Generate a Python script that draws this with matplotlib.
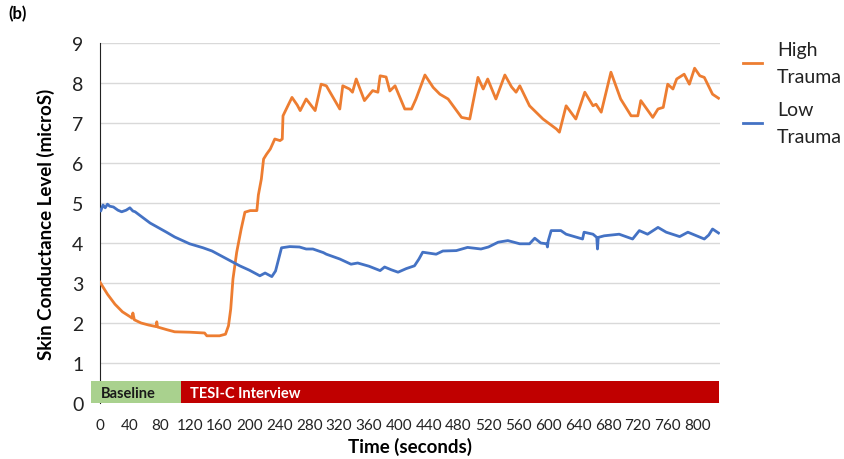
import matplotlib
matplotlib.use("Agg")
import matplotlib.pyplot as plt
from matplotlib.patches import Rectangle

plt.rcParams["font.family"] = ["Lato", "DejaVu Sans"]

C_HIGH = "#ed7d31"; C_LOW = "#4472c4"
C_BASE = "#a9d18e"; C_INT = "#c00000"; C_GRID = "#d9d9d9"

# High Trauma (time s, skin conductance microS)
t_high = [0, 10, 20, 30, 40, 43, 44, 46, 55, 65, 75, 76, 77, 90, 100, 120, 140, 143, 160,
          168, 172, 175, 178, 183, 189, 194, 201, 210, 212, 216, 219, 223, 228, 234, 241,
          244, 245, 252, 257, 264, 268, 276, 288, 296, 303, 321, 325, 334, 338, 343, 354,
          365, 372, 375, 383, 388, 395, 408, 417, 423, 435, 446, 455, 466, 484, 495, 506,
          513, 519, 530, 542, 551, 557, 562, 575, 593, 611, 615, 624, 637, 649, 660, 664,
          671, 684, 697, 711, 720, 724, 740, 747, 754, 760, 767, 772, 782, 789, 796, 803,
          809, 820, 828]
v_high = [3.02, 2.72, 2.47, 2.28, 2.16, 2.12, 2.25, 2.08, 2.0, 1.95, 1.91, 2.03, 1.9, 1.83,
          1.78, 1.77, 1.75, 1.68, 1.68, 1.72, 1.93, 2.35, 3.1, 3.77, 4.35, 4.77, 4.81, 4.81,
          5.2, 5.6, 6.1, 6.22, 6.35, 6.6, 6.56, 6.6, 7.18, 7.45, 7.64, 7.45, 7.31, 7.6, 7.31,
          7.97, 7.93, 7.35, 7.93, 7.85, 7.77, 8.1, 7.56, 7.81, 7.77, 8.18, 8.15, 7.8, 7.93,
          7.35, 7.35, 7.6, 8.2, 7.89, 7.72, 7.6, 7.14, 7.1, 8.14, 7.85, 8.1, 7.6, 8.2, 7.9,
          7.77, 7.93, 7.43, 7.1, 6.85, 6.77, 7.43, 7.1, 7.77, 7.43, 7.47, 7.27, 8.27, 7.6,
          7.18, 7.18, 7.56, 7.14, 7.35, 7.39, 7.97, 7.85, 8.1, 8.22, 7.97, 8.37, 8.18, 8.14,
          7.72, 7.62]

# Low Trauma
t_low = [0, 1, 4, 7, 10, 13, 18, 24, 29, 35, 40, 44, 47, 67, 89, 100, 120, 138, 150, 165,
         187, 200, 214, 221, 230, 235, 243, 254, 267, 276, 285, 299, 303, 321, 336, 345, 360,
         375, 381, 390, 399, 410, 421, 427, 432, 450, 459, 477, 492, 510, 520, 533, 546, 562,
         575, 582, 590, 598, 599, 600, 604, 617, 624, 646, 648, 660, 665, 666, 667, 675, 695,
         713, 722, 733, 747, 758, 776, 787, 809, 815, 820, 828]
v_low = [4.82, 4.8, 4.95, 4.88, 4.97, 4.92, 4.9, 4.82, 4.78, 4.82, 4.88, 4.8, 4.78, 4.5, 4.27,
         4.15, 3.98, 3.88, 3.8, 3.65, 3.43, 3.32, 3.18, 3.25, 3.16, 3.3, 3.88, 3.91, 3.9, 3.85,
         3.85, 3.76, 3.72, 3.6, 3.47, 3.5, 3.42, 3.31, 3.4, 3.33, 3.27, 3.36, 3.43, 3.6, 3.77,
         3.72, 3.8, 3.81, 3.89, 3.85, 3.9, 4.02, 4.06, 3.98, 3.98, 4.12, 4.0, 3.98, 3.9, 4.05,
         4.31, 4.31, 4.22, 4.1, 4.27, 4.22, 4.14, 3.85, 4.14, 4.18, 4.22, 4.1, 4.31, 4.22,
         4.39, 4.27, 4.16, 4.27, 4.1, 4.2, 4.35, 4.25]

# study phases drawn as a strip along the bottom
phase_names = ["Baseline", "TESI-C Interview"]
phase_start = [-12, 108]
phase_end = [108, 828]

x_ticks = list(range(0, 801, 40))
y_ticks = list(range(0, 10))

fig = plt.figure(figsize=(8.44, 4.6), dpi=100)
ax = fig.add_axes([100/844, 1-404/460, 620/844, 360/460])

ax.plot(t_high, v_high, color=C_HIGH, lw=2.0, label="High\nTrauma", zorder=4)
ax.plot(t_low, v_low, color=C_LOW, lw=2.0, label="Low\nTrauma", zorder=4)

ax.set_xlim(0, 830); ax.set_ylim(0, 9)
ax.set_xticks(x_ticks); ax.set_yticks(y_ticks)
ax.grid(axis="y", color=C_GRID, lw=1.0, zorder=0)
ax.set_axisbelow(True)
for s in ("top", "right", "bottom"):
    ax.spines[s].set_visible(False)
ax.spines["left"].set_color("#222222")
ax.tick_params(axis="both", length=0, colors="#222222")
ax.tick_params(axis="y", labelsize=14, pad=12)
ax.tick_params(axis="x", labelsize=11, pad=11)

bar_h = 0.55
for name, a, b, c, tc in zip(phase_names, phase_start, phase_end,
                             [C_BASE, C_INT], ["#1a1a1a", "white"]):
    ax.add_patch(Rectangle((a, 0), b - a, bar_h, facecolor=c, edgecolor="none",
                           clip_on=False, zorder=6))
    ax.text(a + 13, bar_h/2 - 0.03, name, color=tc, fontsize=10.5,
            fontweight="bold", va="center", ha="left", zorder=7)

ax.set_xlabel("Time (seconds)", fontsize=13.5, fontweight="bold", labelpad=3)
ax.set_ylabel("Skin Conductance Level (microS)", fontsize=13.5, fontweight="bold", labelpad=12)

leg = ax.legend(loc="upper left", bbox_to_anchor=(743/844, 1-42/460),
                bbox_transform=fig.transFigure, frameon=False, fontsize=14,
                handlelength=1.0, handletextpad=0.75, labelspacing=0.85,
                borderpad=0, borderaxespad=0)
for t in leg.get_texts():
    t.set_multialignment("left")
    t.set_linespacing(1.7)
    t.set_color("#222222")

fig.text(8/844, 1-14/460, "(b)", fontsize=12, fontweight="bold", va="center", ha="left")

fig.savefig("out.png", dpi=100)
